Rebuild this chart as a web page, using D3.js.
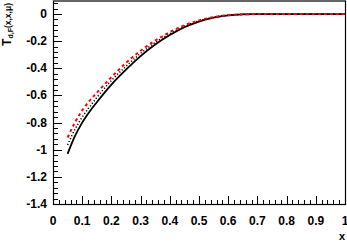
<!DOCTYPE html>
<html>
<head>
<meta charset="utf-8">
<script src="https://cdn.jsdelivr.net/npm/d3@7"></script>
<style>
body { margin: 0; background: #fff; }
text { font-family: "Liberation Sans", Arial, sans-serif; font-weight: bold; }
</style>
</head>
<body>
<div id="chart"></div>
<script>
// values
var xs      = [0.05, 0.075, 0.1, 0.125, 0.15, 0.2, 0.25, 0.3, 0.35, 0.4, 0.45, 0.5, 0.55, 0.6, 0.65, 0.7, 0.8, 0.9, 1.0];
var solid   = [-1.03, -0.90, -0.80, -0.72, -0.65, -0.52, -0.41, -0.31, -0.225, -0.155, -0.097, -0.055, -0.026, -0.009, -0.002, 0, 0, 0, 0];
var dotted  = [-0.965, -0.85, -0.76, -0.685, -0.615, -0.49, -0.385, -0.29, -0.21, -0.145, -0.09, -0.051, -0.024, -0.0085, -0.002, 0, 0, 0, 0];
var dashed  = [-0.91, -0.80, -0.71, -0.64, -0.58, -0.465, -0.36, -0.27, -0.195, -0.133, -0.083, -0.047, -0.022, -0.008, -0.002, 0, 0, 0, 0];

var xTickLabels = [0, 0.1, 0.2, 0.3, 0.4, 0.5, 0.6, 0.7, 0.8, 0.9, 1];
var yTickLabels = [0, -0.2, -0.4, -0.6, -0.8, -1, -1.2, -1.4];

var width = 347, height = 243;
var padL = 53, padR = 345, padT = 0.5, padB = 204;

var svg = d3.select("#chart")
    .append("svg")
        .attr("width", width)
        .attr("height", height);

var xScale = d3.scaleLinear()
    .domain([0, 1])
    .range([padL, padR]);

var yScale = d3.scaleLinear()
    .domain([-1.4, 0.1])
    .range([padB, padT]);

// minor ticks: 5 subdivisions per major step
var xMinor = d3.range(0, 1.0001, 0.02);
var yMinor = d3.range(-1.4, 0.1, 0.04);

var ticks = svg.append("g").attr("stroke", "#000").attr("stroke-width", 1);

ticks.selectAll(".xm")
    .data(xMinor)
    .enter()
    .append("line")
        .attr("x1", function(d){return Math.round(xScale(d)) + 0.5;})
        .attr("x2", function(d){return Math.round(xScale(d)) + 0.5;})
        .attr("y1", padB)
        .attr("y2", function(d){
            var major = Math.abs(d*10 - Math.round(d*10)) < 1e-6;
            return padB - (major ? 8 : 4);
        });

ticks.selectAll(".ym")
    .data(yMinor)
    .enter()
    .append("line")
        .attr("y1", function(d){return Math.round(yScale(d)) + 0.5;})
        .attr("y2", function(d){return Math.round(yScale(d)) + 0.5;})
        .attr("x1", padL)
        .attr("x2", function(d){
            var major = Math.abs(d*5 - Math.round(d*5)) < 1e-6;
            return padL + (major ? 9 : 5);
        });

// frame
svg.append("rect")
    .attr("x", padL + 0.5)
    .attr("y", padT + 0.5)
    .attr("width", padR - padL)
    .attr("height", padB - padT)
    .attr("fill", "none")
    .attr("stroke", "#000")
    .attr("stroke-width", 1.2);

svg.append("g")
    .selectAll("text")
    .data(xTickLabels)
    .enter()
    .append("text")
        .attr("x", function(d){return xScale(d);})
        .attr("y", 225)
        .attr("text-anchor", "middle")
        .attr("font-size", 12)
        .text(function(d){return d;});

svg.append("g")
    .selectAll("text")
    .data(yTickLabels)
    .enter()
    .append("text")
        .attr("x", 47)
        .attr("y", function(d){return yScale(d) + 4;})
        .attr("text-anchor", "end")
        .attr("font-size", 12)
        .text(function(d){return d;});

svg.append("text")
    .attr("x", 345)
    .attr("y", 240)
    .attr("text-anchor", "end")
    .attr("font-size", 11)
    .text("x");

var yTitle = svg.append("text")
    .attr("transform", "translate(11,3) rotate(-90)")
    .attr("text-anchor", "end")
    .attr("font-size", 12);
yTitle.append("tspan").text("T");
yTitle.append("tspan").attr("font-size", 7).attr("dy", 2).text("d,F");
yTitle.append("tspan").attr("font-size", 8.5).attr("dy", -2).text("(x,x,\u03bc)");

var line = d3.line()
    .x(function(d){return xScale(d[0]);})
    .y(function(d){return yScale(d[1]);})
    .curve(d3.curveMonotoneX);

svg.append("path")
    .datum(d3.zip(xs, solid))
    .attr("d", line)
    .attr("fill", "none")
    .attr("stroke", "#000")
    .attr("stroke-width", 1.8);

svg.append("path")
    .datum(d3.zip(xs, dotted))
    .attr("d", line)
    .attr("fill", "none")
    .attr("stroke", "#000")
    .attr("stroke-width", 1.5)
    .attr("stroke-dasharray", "1.2,2");

svg.append("path")
    .datum(d3.zip(xs, dashed))
    .attr("d", line)
    .attr("fill", "none")
    .attr("stroke", "#ff0000")
    .attr("stroke-width", 2)
    .attr("stroke-dasharray", "3,3");
</script>
</body>
</html>
